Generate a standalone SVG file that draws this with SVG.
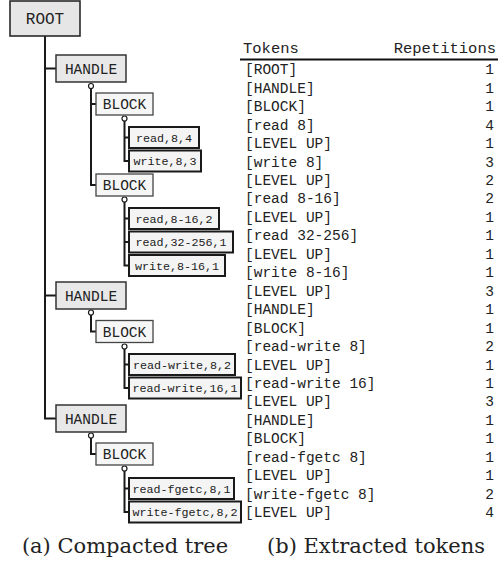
<svg xmlns="http://www.w3.org/2000/svg" width="498" height="563" viewBox="0 0 498 563">
<style>
.mono{font-family:"Liberation Mono","Courier New",monospace;fill:#222}
.root rect{fill:#e6e6e6;stroke:#2a2a2a;stroke-width:1.6}
.handle rect{fill:#e8e8e8;stroke:#333;stroke-width:1.5}
.block rect{fill:#f6f6f6;stroke:#444;stroke-width:1.3}
.leaf rect{fill:#f4f4f4;stroke:#1a1a1a;stroke-width:2}
.root text{font-size:16px}
.handle text,.block text{font-size:14.5px}
.leaf text{font-size:11.7px}
.lines path{fill:none;stroke:#1a1a1a;stroke-width:2}
.lines circle{fill:#fff;stroke:#1a1a1a;stroke-width:1.2}
.tbl text{font-size:14.5px}
.cap{font-family:"DejaVu Serif","Liberation Serif",serif;font-size:21px;fill:#222}
</style>
<g id="connectors" class="lines">
<path d="M45 36V418.5H56M45 68.5H56M45 295.5H56"/>
<path d="M91 88.5V185H96M91 104H96"/>
<path d="M124.5 121V161H129M124.5 137.5H129"/>
<path d="M124.5 202V265.5H129M124.5 218.5H129M124.5 242H129"/>
<path d="M91 315V331.5H96"/>
<path d="M124.5 349V388H129M124.5 364.5H129"/>
<path d="M91 438V454H96"/>
<path d="M124.5 471V512H129M124.5 488.5H129"/>
<circle cx="91" cy="86" r="2.5"/>
<circle cx="124.5" cy="118.5" r="2.5"/>
<circle cx="124.5" cy="199.5" r="2.5"/>
<circle cx="91" cy="312.5" r="2.5"/>
<circle cx="124.5" cy="346.5" r="2.5"/>
<circle cx="91" cy="435.5" r="2.5"/>
<circle cx="124.5" cy="468.5" r="2.5"/>
</g>
<g id="root" class="root"><rect x="10" y="1" width="70" height="35"/><text class="mono" x="45" y="24" text-anchor="middle">ROOT</text></g>
<g id="handle1" class="handle"><rect x="56" y="55" width="70" height="27"/><text class="mono" x="91" y="73.5" text-anchor="middle">HANDLE</text></g>
<g id="block1" class="block"><rect x="96" y="93" width="57" height="22"/><text class="mono" x="124.5" y="109" text-anchor="middle">BLOCK</text></g>
<g id="leaf1" class="leaf"><rect x="129" y="127" width="70" height="21"/><text class="mono" x="164" y="141.5" text-anchor="middle">read,8,4</text></g>
<g id="leaf2" class="leaf"><rect x="129" y="150.5" width="72" height="21"/><text class="mono" x="165" y="165" text-anchor="middle">write,8,3</text></g>
<g id="block2" class="block"><rect x="96" y="174" width="57" height="22"/><text class="mono" x="124.5" y="190" text-anchor="middle">BLOCK</text></g>
<g id="leaf3" class="leaf"><rect x="129" y="208" width="90" height="21"/><text class="mono" x="174" y="222.5" text-anchor="middle">read,8-16,2</text></g>
<g id="leaf4" class="leaf"><rect x="129" y="231.5" width="104" height="21"/><text class="mono" x="181" y="246" text-anchor="middle">read,32-256,1</text></g>
<g id="leaf5" class="leaf"><rect x="129" y="255" width="96" height="21"/><text class="mono" x="177" y="269.5" text-anchor="middle">write,8-16,1</text></g>
<g id="handle2" class="handle"><rect x="56" y="282" width="70" height="27"/><text class="mono" x="91" y="300.5" text-anchor="middle">HANDLE</text></g>
<g id="block3" class="block"><rect x="96" y="320.5" width="57" height="22"/><text class="mono" x="124.5" y="336.5" text-anchor="middle">BLOCK</text></g>
<g id="leaf6" class="leaf"><rect x="129" y="354" width="106" height="21"/><text class="mono" x="182" y="368.5" text-anchor="middle">read-write,8,2</text></g>
<g id="leaf7" class="leaf"><rect x="129" y="377.5" width="112" height="21"/><text class="mono" x="185" y="392" text-anchor="middle">read-write,16,1</text></g>
<g id="handle3" class="handle"><rect x="56" y="405" width="70" height="27"/><text class="mono" x="91" y="423.5" text-anchor="middle">HANDLE</text></g>
<g id="block4" class="block"><rect x="96" y="443" width="57" height="22"/><text class="mono" x="124.5" y="459" text-anchor="middle">BLOCK</text></g>
<g id="leaf8" class="leaf"><rect x="129" y="478" width="105" height="21"/><text class="mono" x="181.5" y="492.5" text-anchor="middle">read-fgetc,8,1</text></g>
<g id="leaf9" class="leaf"><rect x="129" y="501.5" width="112" height="21"/><text class="mono" x="185" y="516" text-anchor="middle">write-fgetc,8,2</text></g>
<g id="table" class="tbl">
<text class="mono" x="243" y="53" style="font-size:15.5px">Tokens</text>
<text class="mono" x="496" y="53" text-anchor="end" style="font-size:15.5px">Repetitions</text>
<path d="M240 59.5H498" stroke="#111" stroke-width="1.8"/>
<g class="mono">
<text x="245" y="74.3">[ROOT]</text><text x="494" y="74.3" text-anchor="end">1</text>
<text x="245" y="92.75">[HANDLE]</text><text x="494" y="92.75" text-anchor="end">1</text>
<text x="245" y="111.2">[BLOCK]</text><text x="494" y="111.2" text-anchor="end">1</text>
<text x="245" y="129.65">[read 8]</text><text x="494" y="129.65" text-anchor="end">4</text>
<text x="245" y="148.1">[LEVEL UP]</text><text x="494" y="148.1" text-anchor="end">1</text>
<text x="245" y="166.55">[write 8]</text><text x="494" y="166.55" text-anchor="end">3</text>
<text x="245" y="185">[LEVEL UP]</text><text x="494" y="185" text-anchor="end">2</text>
<text x="245" y="203.45">[read 8-16]</text><text x="494" y="203.45" text-anchor="end">2</text>
<text x="245" y="221.9">[LEVEL UP]</text><text x="494" y="221.9" text-anchor="end">1</text>
<text x="245" y="240.35">[read 32-256]</text><text x="494" y="240.35" text-anchor="end">1</text>
<text x="245" y="258.8">[LEVEL UP]</text><text x="494" y="258.8" text-anchor="end">1</text>
<text x="245" y="277.25">[write 8-16]</text><text x="494" y="277.25" text-anchor="end">1</text>
<text x="245" y="295.7">[LEVEL UP]</text><text x="494" y="295.7" text-anchor="end">3</text>
<text x="245" y="314.15">[HANDLE]</text><text x="494" y="314.15" text-anchor="end">1</text>
<text x="245" y="332.6">[BLOCK]</text><text x="494" y="332.6" text-anchor="end">1</text>
<text x="245" y="351.05">[read-write 8]</text><text x="494" y="351.05" text-anchor="end">2</text>
<text x="245" y="369.5">[LEVEL UP]</text><text x="494" y="369.5" text-anchor="end">1</text>
<text x="245" y="387.95">[read-write 16]</text><text x="494" y="387.95" text-anchor="end">1</text>
<text x="245" y="406.4">[LEVEL UP]</text><text x="494" y="406.4" text-anchor="end">3</text>
<text x="245" y="424.85">[HANDLE]</text><text x="494" y="424.85" text-anchor="end">1</text>
<text x="245" y="443.3">[BLOCK]</text><text x="494" y="443.3" text-anchor="end">1</text>
<text x="245" y="461.75">[read-fgetc 8]</text><text x="494" y="461.75" text-anchor="end">1</text>
<text x="245" y="480.2">[LEVEL UP]</text><text x="494" y="480.2" text-anchor="end">1</text>
<text x="245" y="498.65">[write-fgetc 8]</text><text x="494" y="498.65" text-anchor="end">2</text>
<text x="245" y="517.1">[LEVEL UP]</text><text x="494" y="517.1" text-anchor="end">4</text>
</g>
</g>
<text class="cap" x="125" y="553" text-anchor="middle">(a) Compacted tree</text>
<text class="cap" x="376" y="553" text-anchor="middle">(b) Extracted tokens</text>
</svg>
